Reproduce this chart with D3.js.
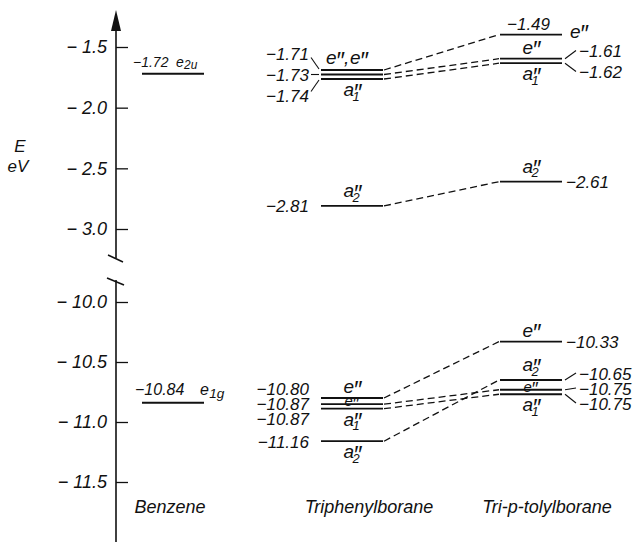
<!DOCTYPE html>
<html><head><meta charset="utf-8">
<script src="https://cdn.jsdelivr.net/npm/d3@7"></script>
<style>
html,body{margin:0;padding:0;background:#fff;}
svg{display:block;}
text{font-family:"Liberation Sans Narrow","Liberation Sans",Arial,sans-serif;font-style:italic;fill:#111;}
</style></head><body>
<svg id="chart" width="633" height="542"></svg>
<script>
// ---------------- data ----------------
const compounds = ["Benzene", "Triphenylborane", "Tri-p-tolylborane"];
const topTicks = [-1.5, -2.0, -2.5, -3.0];
const bottomTicks = [-10.0, -10.5, -11.0, -11.5];
const axisTitle = ["E", "eV"];

const benzeneValues = [-1.72, -10.84];
const benzeneSymbols = ["e2u", "e1g"];

const triphenylValues = [-1.71, -1.73, -1.74, -2.81, -10.80, -10.87, -10.87, -11.16];
const triphenylSymbols = ["e''", "e''", "a1''", "a2''", "e''", "e''", "a1''", "a2''"];

// same order as triphenyl (correlated levels)
const tolylValues = [-1.49, -1.61, -1.62, -2.61, -10.33, -10.75, -10.75, -10.65];
const tolylSymbols = ["e''", "e''", "a1''", "a2''", "e''", "e''", "a1''", "a2''"];

// ---------------- layout ----------------
const svg = d3.select("#chart");
const axisX = 116;
const yTop = d3.scaleLinear().domain([-1.5, -3.0]).range([47, 229]);
const yBot = d3.scaleLinear().domain([-10.0, -11.5]).range([302, 482]);
const isTop = v => v > -6;
const Y = v => isTop(v) ? yTop(v) : yBot(v);
const X = d3.scalePoint().domain(compounds).range([173, 531]);
const halfW = 31;
const fmt2 = v => "−" + Math.abs(v).toFixed(2);
const fmt1 = v => "−\u00a0" + Math.abs(v).toFixed(1);

// where each symmetry label sits relative to its level line
const triPlace = ["aboveCombined", "none", "below", "above", "above", "mid", "below", "below"];
const tolPlace = ["right", "above", "below", "above", "above", "mid", "below", "above"];

// separate nearly coincident items with a minimum gap
function spread(vals, idx, gapTop, gapBot) {
  const out = {};
  [true, false].forEach(t => {
    const gap = t ? gapTop : gapBot;
    const arr = idx.filter(i => isTop(vals[i]) === t)
      .map(i => ({ i, y: Y(vals[i]) }))
      .sort((a, b) => a.y - b.y || a.i - b.i);
    const pos = c => { const m = d3.mean(c, d => d.y); return c.map((d, j) => m + (j - (c.length - 1) / 2) * gap); };
    let clusters = arr.map(d => [d]);
    let merged = true;
    while (merged) {
      merged = false;
      for (let k = 0; k < clusters.length - 1; k++) {
        const a = pos(clusters[k]), b = pos(clusters[k + 1]);
        if (b[0] - a[a.length - 1] < gap - 0.01) {
          clusters.splice(k, 2, clusters[k].concat(clusters[k + 1]));
          merged = true; break;
        }
      }
    }
    clusters.forEach(c => { const p = pos(c); c.forEach((d, j) => out[d.i] = { y: p[j], n: c.length, top: t }); });
  });
  return out;
}
// leave room for a label drawn above a level: push the level above it upward
function makeRoom(lines, place, room) {
  const ids = Object.keys(lines).map(Number);
  ids.forEach(i => {
    if (place[i] !== "above") return;
    ids.forEach(j => {
      const d = lines[i].y - lines[j].y;
      if (j !== i && lines[j].top === lines[i].top && d > 6 && d < room) lines[j].y = lines[i].y - room;
    });
  });
}

// symmetry symbol as one text element: base letter, double prime stacked over subscript
function addSym(t, x0, B, s, S) {
  const prime = s.includes("''");
  const core = s.replace("''", "");
  const base = core[0], sub = core.slice(1);
  t.append("tspan").attr("x", x0).attr("y", B).attr("font-size", S).text(base);
  if (prime) t.append("tspan").attr("x", x0 + 0.5 * S).attr("y", B + 0.24 * S).attr("font-size", 1.25 * S).text("″");
  if (sub) {
    if (prime) t.append("tspan").attr("x", x0 + 0.48 * S).attr("y", B + 0.24 * S).attr("font-size", 0.68 * S).text(sub);
    else t.append("tspan").attr("x", x0 + 0.58 * S).attr("y", B + 0.2 * S).attr("font-size", 0.85 * S).text(sub);
  }
  return t;
}
function drawSym(g, x0, B, s, S) {
  return addSym(g.append("text").attr("font-style", "italic"), x0, B, s, S);
}

// ---------------- axis ----------------
const axG = svg.append("g");
axG.append("line").attr("x1", axisX).attr("x2", axisX).attr("y1", 20).attr("y2", 258)
  .attr("stroke", "#111").attr("stroke-width", 1.6);
axG.append("path").attr("d", `M${axisX},10 L${axisX - 5},31 L${axisX + 5},31 Z`).attr("fill", "#111");
axG.append("line").attr("x1", axisX).attr("x2", axisX).attr("y1", 280).attr("y2", 542)
  .attr("stroke", "#111").attr("stroke-width", 1.6);
axG.append("line").attr("x1", axisX - 8).attr("y1", 255).attr("x2", axisX + 7).attr("y2", 262).attr("stroke", "#111").attr("stroke-width", 1.5);
axG.append("line").attr("x1", axisX - 9).attr("y1", 278).attr("x2", axisX + 8).attr("y2", 285).attr("stroke", "#111").attr("stroke-width", 1.5);

function styleAxis(g) {
  g.select(".domain").remove();
  g.selectAll(".tick line").attr("stroke", "#111").attr("stroke-width", 1.3);
  g.selectAll(".tick text").attr("font-size", 18).attr("font-style", "italic").attr("fill", "#111");
  g.attr("font-family", null).attr("font-size", null);
}
svg.append("g").attr("transform", `translate(${axisX},0)`)
  .call(d3.axisLeft(yTop).tickValues(topTicks).tickSizeInner(-12).tickSizeOuter(0).tickPadding(9).tickFormat(fmt1))
  .call(styleAxis);
svg.append("g").attr("transform", `translate(${axisX},0)`)
  .call(d3.axisLeft(yBot).tickValues(bottomTicks).tickSizeInner(-12).tickSizeOuter(0).tickPadding(9).tickFormat(fmt1))
  .call(styleAxis);

svg.append("text").attr("x", 20).attr("y", 152).attr("text-anchor", "middle").attr("font-size", 17).text(axisTitle[0]);
svg.append("text").attr("x", 18).attr("y", 172).attr("text-anchor", "middle").attr("font-size", 17).text(axisTitle[1]);

// ---------------- compound titles ----------------
const titleShift = [-3, 17, 16];
svg.selectAll("text.title").data(compounds).join("text").attr("class", "title")
  .attr("x", (d, i) => X(d) + titleShift[i]).attr("y", 513).attr("text-anchor", "middle")
  .attr("font-size", 18).text(d => d);

const lvl = svg.append("g");
const lbl = svg.append("g");

// ---------------- benzene ----------------
{
  const cx = X(compounds[0]);
  benzeneValues.forEach((v, i) => {
    const y = Y(v);
    lvl.append("line").attr("x1", cx - halfW).attr("x2", cx + halfW).attr("y1", y).attr("y2", y)
      .attr("stroke", "#111").attr("stroke-width", 2);
    const t = lbl.append("text").attr("font-style", "italic");
    if (i === 0) {
      t.append("tspan").attr("x", cx - halfW - 9).attr("y", y - 7).attr("font-size", 14).text(fmt2(v));
      addSym(t, cx + 3, y - 7, benzeneSymbols[i], 14);
    } else {
      t.append("tspan").attr("x", cx - halfW - 7).attr("y", y - 8).attr("font-size", 16).text(fmt2(v));
      addSym(t, cx + 27, y - 8, benzeneSymbols[i], 16);
    }
  });
}

// ---------------- triphenyl & tolyl ----------------
const allIdx = triphenylValues.map((_, i) => i);
const triLine = spread(triphenylValues, allIdx, 4.5, 4.5);
const tolLine = spread(tolylValues, allIdx, 4.5, 4.5);
makeRoom(triLine, triPlace, 24);
makeRoom(tolLine, tolPlace, 24);
const triLab = spread(triphenylValues, allIdx, 21, 15);
const tolRightIdx = allIdx.filter(i => tolPlace[i] !== "right");
const tolLab = spread(tolylValues, tolRightIdx, 21, 15);

const cxT = X(compounds[1]), cxP = X(compounds[2]);

// correlation dashes
allIdx.forEach(i => {
  lvl.append("line")
    .attr("x1", cxT + halfW + 1).attr("y1", triLine[i].y)
    .attr("x2", cxP - halfW - 1).attr("y2", tolLine[i].y)
    .attr("stroke", "#111").attr("stroke-width", 1.3).attr("stroke-dasharray", "7,4");
});

// level lines
allIdx.forEach(i => {
  lvl.append("line").attr("x1", cxT - halfW).attr("x2", cxT + halfW)
    .attr("y1", triLine[i].y).attr("y2", triLine[i].y).attr("stroke", "#111").attr("stroke-width", 1.8);
  lvl.append("line").attr("x1", cxP - halfW).attr("x2", cxP + halfW)
    .attr("y1", tolLine[i].y).attr("y2", tolLine[i].y).attr("stroke", "#111").attr("stroke-width", 1.8);
});

// triphenyl value labels (left)
allIdx.forEach(i => {
  const ly = triLab[i].y, y = triLine[i].y;
  const xe = cxT - halfW - 12;
  lbl.append("text").attr("x", xe).attr("y", ly + 6.5).attr("text-anchor", "end").attr("font-size", 17)
    .text(fmt2(triphenylValues[i]));
  if (triLab[i].n > 1 && triLab[i].top) {
    const dy = ly - y;
    lbl.append("line").attr("x1", xe + 2).attr("y1", ly + (dy < -2 ? 4 : dy > 2 ? -4 : 0))
      .attr("x2", cxT - halfW - 2).attr("y2", y + (dy < -2 ? -1 : dy > 2 ? 1 : 0))
      .attr("stroke", "#111").attr("stroke-width", 1.1);
  }
});

// tolyl value labels (right; the one whose symbol sits at the right gets its value above)
allIdx.forEach(i => {
  const v = tolylValues[i], y = tolLine[i].y;
  if (tolPlace[i] === "right") {
    lbl.append("text").attr("x", cxP - halfW + 7).attr("y", y - 5).attr("font-size", 17).text(fmt2(v));
    return;
  }
  const ly = tolLab[i].y;
  if (tolLab[i].n > 1) {
    lbl.append("line").attr("x1", cxP + halfW + 3).attr("y1", y)
      .attr("x2", cxP + halfW + 14).attr("y2", ly)
      .attr("stroke", "#111").attr("stroke-width", 1.1);
    lbl.append("text").attr("x", cxP + halfW + 17).attr("y", ly + 6.5).attr("font-size", 17).text(fmt2(v));
  } else {
    lbl.append("text").attr("x", cxP + halfW + 4).attr("y", ly + 6.5).attr("font-size", 17).text(fmt2(v));
  }
});

// symmetry labels
function placeSym(cx, y, s, place) {
  const S = 19, hasSub = /\d/.test(s);
  const x0 = cx - S * 0.45;
  if (place === "above") drawSym(lbl, x0, y - (hasSub ? 9 : 5), s, S);
  else if (place === "below") drawSym(lbl, x0, y + 17, s, S);
  else if (place === "mid") drawSym(lbl, x0 + 1, y + 2, s, 15);
  else if (place === "right") drawSym(lbl, cx + halfW + 8, y + 3, s, S);
  else if (place === "aboveCombined") {
    const t = lbl.append("text").attr("font-style", "italic");
    addSym(t, cx - 26, y - 6, s, S);
    t.append("tspan").attr("x", cx - 8).attr("y", y - 6).attr("font-size", S).text(",");
    addSym(t, cx - 2, y - 6, s, S);
  }
}
allIdx.forEach(i => {
  placeSym(cxT, triLine[i].y, triphenylSymbols[i], triPlace[i]);
  placeSym(cxP, tolLine[i].y, tolylSymbols[i], tolPlace[i]);
});
</script>
</body></html>
